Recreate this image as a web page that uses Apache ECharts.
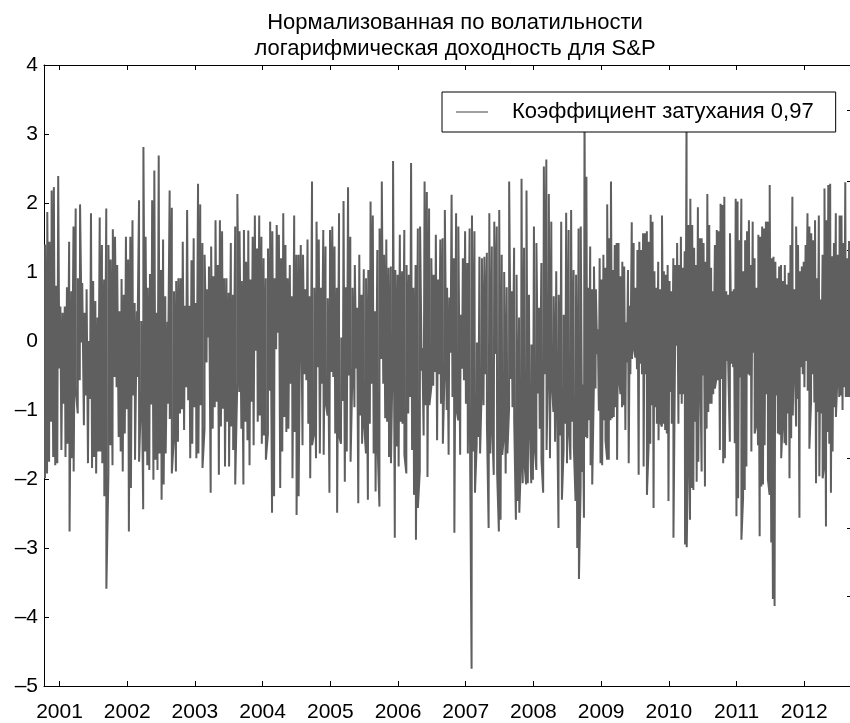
<!DOCTYPE html>
<html>
<head>
<meta charset="utf-8">
<script src="https://cdn.jsdelivr.net/npm/echarts@6/dist/echarts.min.js"></script>
<style>
  html, body { margin: 0; padding: 0; background: #fff; }
  #chart { width: 850px; height: 723px; }
</style>
</head>
<body>
<div id="chart"></div>
<script>
// ---- Data ----
// Each segment: date span in fractional years, spike tops (highs) and spike bottoms (lows)
const titleLines = ['Нормализованная по волатильности', 'логарифмическая доходность для S&P'];
const seriesName = 'Коэффициент затухания 0,97';
const xRange = [2000.771, 2012.676];
const yRange = [-5, 4];
const rightTickValues = [3.34, 2.32, 1.32, 0.31, -0.69, -1.70, -2.71, -3.70];

const seg1Span = [2000.771, 2004.547];
const seg1High = [1.40,1.87,1.44,2.18,2.23,0.80,2.39,0.50,0.41,0.50,
0.78,1.44,0.72,1.66,1.92,0.91,1.98,0.84,0.41,0.75,
0.00,1.85,0.87,0.58,0.34,1.79,1.39,0.89,1.92,1.39,
1.18,1.62,1.51,1.10,0.43,0.90,0.67,1.51,1.18,1.51,
1.75,0.55,0.43,2.04,0.29,2.81,1.51,0.77,0.97,2.04,
2.47,0.41,2.69,1.03,1.47,0.65,0.28,2.18,1.93,0.72,
0.87,0.91,0.91,1.44,0.51,1.90,0.51,1.17,1.49,0.55,
2.28,1.98,1.42,1.25,0.75,1.08,1.37,0.94,1.75,1.10,
1.75,1.59,0.91,0.91,0.70,1.42,0.67,1.66,2.13,1.59,
0.87,1.61,1.15,1.60,0.89,1.51,1.82,1.34,1.82,1.51,
1.20,0.91,1.34,1.73,1.59,0.91,1.68,1.54,1.20,1.85,
1.39,0.91,1.10,0.65,1.82,1.25,1.25];
const seg1Low = [-1.99,-1.92,-1.75,-1.17,-1.68,-1.80,-1.77,-0.40,-1.58,-0.91,
-1.68,-1.49,-2.76,-1.70,-1.89,-0.69,-1.05,-0.57,-0.02,-1.22,
-0.79,-1.77,-0.84,-1.84,-1.68,-1.92,-1.60,-1.60,-1.77,-2.25,
-3.59,-1.92,-1.51,-1.80,-0.52,-0.67,-1.39,-1.60,-1.89,-1.34,
-0.99,-2.76,-2.13,-0.79,-1.72,-0.52,-1.75,-0.72,-2.44,-1.60,
-1.80,-1.87,-0.92,-2.01,-1.72,-1.87,-1.63,-2.30,-2.08,-1.63,
-0.91,-1.13,-1.92,-1.41,-1.89,-1.46,-1.05,-0.99,-1.29,-0.67,
-0.86,-1.70,-1.49,-0.96,-1.70,-1.63,-0.93,-1.84,-1.27,-0.31,
0.05,-2.20,-1.27,-0.96,-0.88,-1.94,-1.24,-0.98,-1.82,-1.17,
-1.82,-1.24,-1.58,-2.08,-0.60,-0.74,-1.27,-2.08,-1.17,-1.44,
-1.80,-0.88,-1.51,-0.14,-1.17,-1.08,-1.49,-1.37,-1.72,-1.34,
-0.72,-2.49,-2.25,-0.12,0.12,-2.13,-1.60,-1.10,-1.32,-1.27,
-0.62,-1.99,-1.32,-2.52,-2.25];

const seg2Span = [2004.547, 2007.074];
const seg2High = [1.39,1.25,0.75,1.47,0.65,2.31,0.77,1.73,1.47,0.77,
1.61,1.37,0.62,1.61,1.66,1.37,0.77,1.85,0.05,2.03,
0.78,2.23,1.51,0.77,1.10,0.48,1.25,0.67,1.04,0.91,
1.03,2.02,1.82,0.43,1.32,1.63,2.31,1.25,1.47,1.06,
1.08,2.61,1.03,0.96,1.54,1.01,1.61,1.10,0.96,2.58,
0.77,1.10,1.63,1.66,-0.10,2.31,2.16,1.92,1.20,0.96,
1.54,0.89,1.47,1.49,1.90,0.77,0.63,2.12,1.20,1.85,
1.66,0.38,1.20,1.59,1.13,1.63];
const seg2Low = [-2.27,-1.51,-0.48,-0.57,-1.20,-1.99,-1.51,-1.34,-1.70,-0.38,
-1.63,-0.62,-1.65,-0.88,-1.08,-2.20,-0.45,-0.52,-1.34,-2.49,
-1.37,-1.49,-0.87,-2.04,-1.60,-0.50,-1.75,-0.38,-0.96,-0.40,
-2.35,-1.08,-1.49,-1.20,-1.63,-2.30,-1.20,-0.62,-1.63,-2.18,
-1.46,-2.40,-0.26,-0.62,-1.12,-1.17,-1.68,-1.77,0.00,-2.85,
-1.53,-1.82,-1.17,-1.20,-1.65,-1.92,-1.05,-0.81,-1.58,-2.23,
-2.88,-2.42,-1.89,-0.43,-1.37,-0.93,-1.97,-0.93,-0.67,-0.65,
-0.45,-1.44,-0.48,-0.91,-1.49,-0.33,-1.00,-1.65,-0.17,-0.81,
-2.78,-0.98,-1.15,-1.65,-0.40,-0.57,-0.91,-1.63,-0.93];

const seg3Span = [2007.074, 2008.685];
const seg3High = [1.82,1.59,-0.02,1.22,
1.20,1.22,1.28,1.85,1.37,1.73,1.66,1.90,1.25,1.00,
0.78,2.31,0.72,1.35,0.96,0.34,2.35,1.35,2.18,0.67,
-0.05,1.66,1.42,0.48,1.13,2.53,2.63,2.13,1.73,0.65,
1.01,0.67,1.73,0.38,1.86,1.61,1.90,1.03,0.96,1.63];
const seg3Low = [-4.75,-1.60,-2.20,-1.50,-1.39,-1.63,-0.60,-0.93,-0.48,-1.20,-2.71,
-1.63,-1.15,-1.94,-0.19,-1.92,-2.76,-2.59,-1.65,-1.37,-1.92,
-1.63,-0.98,-0.55,-0.96,-1.15,-2.59,-2.32,-2.49,-1.72,-2.06,
-1.77,-2.08,-2.06,-1.08,-2.06,-2.01,-1.53,-1.87,-0.76,-1.27,
-1.72,-2.20,-0.48,-1.58,-0.17,-1.70,-0.55,-1.03,-1.46,-0.55,
-2.71,-1.37,-2.30,-1.58,-1.20,-1.77,-1.22,-1.72,-1.17,-1.53,
-2.32,-3.00,-3.45];

const seg4Span = [2008.685, 2012.676];
const seg4High = [1.66,-0.63,3.40,2.38,0.77,1.37,0.75,1.08,0.75,0.17,
1.20,0.89,1.25,1.06,1.98,1.49,2.31,1.03,1.39,1.42,
1.42,0.94,1.15,1.08,0.27,1.03,0.51,1.72,1.42,0.77,
1.32,1.44,1.32,1.56,1.56,1.59,1.44,1.83,1.73,1.01,
0.77,1.15,0.75,1.82,1.01,0.96,1.10,0.87,0.72,1.20,
1.10,1.42,1.10,1.51,1.06,1.30,3.40,1.68,2.06,1.68,
1.35,1.10,1.94,1.49,1.49,1.42,1.15,2.13,1.68,1.06,
0.72,1.39,1.61,1.59,1.99,1.97,2.09,0.72,0.67,1.56,
0.72,0.75,2.06,2.02,1.46,2.06,1.01,1.46,1.59,1.75,
1.10,1.73,1.20,0.77,1.54,1.51,1.66,1.63,1.73,1.73,
2.26,1.20,1.22,1.15,0.91,1.08,1.10,0.87,1.10,0.82,
0.99,1.39,2.09,0.75,1.66,1.39,1.01,1.08,1.15,1.39,
1.85,1.66,1.56,1.46,1.75,0.91,1.82,0.60,1.25,2.21,
1.75,2.26,2.28,1.23,1.42,1.85,1.25,1.82,1.82,1.42,
2.30,1.20,1.45];
const seg4Low = [-2.11,-1.90,-2.56,-1.39,-1.41,-1.15,-1.80,-2.08,-0.64,-0.69,
-0.19,-1.01,-1.77,-1.80,-1.15,-1.44,-1.72,-1.72,-1.15,-1.12,
-1.10,-0.96,-1.72,-0.48,-0.77,-0.96,-0.93,-1.29,-0.31,-1.77,
-0.48,-0.26,-0.09,-0.24,-0.41,-1.94,-0.33,-0.48,-1.82,-0.48,
-2.23,-1.53,-1.49,-0.93,-2.42,-0.96,-1.20,-1.44,-1.17,-1.24,
-1.20,-1.29,-1.34,-2.32,-0.74,-1.20,-2.85,-0.05,-0.07,-1.20,
-0.77,-0.91,-0.77,-2.95,-2.99,-1.39,-2.59,-2.13,-2.16,-1.17,
-2.04,-1.75,-0.05,-1.89,-0.50,-2.11,-1.27,-1.03,-0.91,-0.91,
-0.77,-0.69,-0.53,-0.57,-1.58,-0.55,-1.77,-1.70,-0.29,-0.29,
-1.46,-0.33,-0.38,-1.48,-2.54,-2.28,-0.53,-2.88,-2.28,-2.16,
-1.82,-0.48,-0.50,-1.60,-0.17,-1.34,-1.20,-1.51,-2.83,-2.11,
-2.08,-1.51,-0.77,-2.01,-2.23,-2.92,-3.74,-3.84,-0.79,-1.34,
-1.36,-1.70,-1.10,-1.48,-1.51,-1.05,-1.99,-1.41,-1.08,-0.14,
-1.24,-0.84,-2.56,-0.38,-0.48,-0.67,-0.29,-0.72,-1.56,-0.89,
-0.48,-0.89,-2.06,-1.03,-1.96,-1.05,-1.99,-1.80,-2.69,-1.32,
-1.49,-2.20,-1.60,-0.96,-1.10,-0.48,-0.81,-0.79,-1.00,-0.67,
-0.81,-0.81,-0.81];

// ---- Build the time series (dates spread evenly over each segment's span) ----
const segments = [
  [seg1Span, seg1High, seg1Low],
  [seg2Span, seg2High, seg2Low],
  [seg3Span, seg3High, seg3Low],
  [seg4Span, seg4High, seg4Low]
];
function spread(span, arr) {
  const step = (span[1] - span[0]) / arr.length;
  return arr.map((v, i) => [span[0] + (i + 0.5) * step, v]);
}
let points = [];
segments.forEach(([span, hi, lo]) => {
  points = points.concat(spread(span, hi), spread(span, lo));
});
points.sort((a, b) => a[0] - b[0]);

const FONT = '"Liberation Sans", Arial, Helvetica, sans-serif';
const chart = echarts.init(document.getElementById('chart'), null, { renderer: 'canvas' });
const option = {
  animation: false,
  backgroundColor: '#ffffff',
  textStyle: { fontFamily: FONT },
  title: {
    text: titleLines.join('\n'),
    left: 450,
    top: 5,
    textAlign: 'center',
    textStyle: { fontFamily: FONT, fontSize: 22, fontWeight: 'normal', color: '#000', lineHeight: 26 }
  },
  legend: {
    data: [{ name: seriesName, icon: 'rect' }],
    left: 442,
    top: 92,
    orient: 'horizontal',
    backgroundColor: '#ffffff',
    borderColor: '#000',
    borderWidth: 1,
    borderRadius: 0,
    padding: [9, 22, 9, 14],
    itemWidth: 32,
    itemHeight: 1.2,
    itemStyle: { color: '#5f5f5f' },
    textStyle: { fontFamily: FONT, fontSize: 22, color: '#000', padding: [0, 0, 0, 19] }
  },
  grid: { left: 44, right: 0, top: 65, bottom: 33, containLabel: false },
  xAxis: [
    {
      type: 'value', position: 'bottom', min: xRange[0], max: xRange[1], splitNumber: 12,
      axisLine: { show: true, onZero: false, lineStyle: { color: '#000', width: 1 } },
      axisTick: { show: true, inside: true, length: 5, lineStyle: { color: '#000' } },
      axisLabel: {
        show: true, fontFamily: FONT, fontSize: 21, color: '#000', margin: 16,
        showMinLabel: false, showMaxLabel: false,
        formatter: v => (Math.abs(v - Math.round(v)) < 1e-6 ? String(Math.round(v)) : '')
      },
      splitLine: { show: false }
    },
    {
      type: 'value', position: 'top', min: xRange[0], max: xRange[1], splitNumber: 12,
      axisLine: { show: true, onZero: false, lineStyle: { color: '#000', width: 1 } },
      axisTick: { show: true, inside: true, length: 5, lineStyle: { color: '#000' } },
      axisLabel: { show: false },
      splitLine: { show: false }
    }
  ],
  yAxis: [
    {
      type: 'value', position: 'left', min: yRange[0], max: yRange[1], interval: 1,
      axisLine: { show: true, onZero: false, lineStyle: { color: '#000', width: 1 } },
      axisTick: { show: true, inside: true, length: 5, lineStyle: { color: '#000' } },
      axisLabel: {
        fontFamily: FONT, fontSize: 21, color: '#000', margin: 6,
        formatter: v => String(v).replace('-', '\u2013')
      },
      splitLine: { show: false }
    },
    {
      type: 'value', position: 'right', min: yRange[0], max: yRange[1],
      axisLine: { show: false, onZero: false },
      axisTick: { show: true, inside: true, length: 3, lineStyle: { color: '#000' }, customValues: rightTickValues },
      axisLabel: { show: false },
      splitLine: { show: false }
    }
  ],
  series: [
    {
      name: seriesName,
      type: 'line',
      xAxisIndex: 0,
      yAxisIndex: 0,
      data: points,
      symbol: 'none',
      showSymbol: false,
      sampling: null,
      progressive: 0,
      color: '#5f5f5f',
      lineStyle: { color: '#5f5f5f', width: 2 },
      z: 2
    }
  ]
};
chart.setOption(option);
</script>
</body>
</html>
